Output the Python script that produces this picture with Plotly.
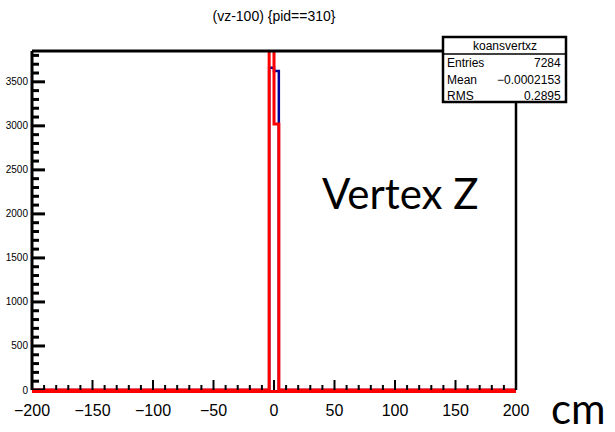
import numpy as np
import plotly.graph_objects as go

# ---- data ----
x_min, x_max, n_bins = -200, 200, 100
filled_bin_left = [-4, 0]
blue_counts = [3660, 3624]
red_counts = [4260, 3020]
y_ticks = [0, 500, 1000, 1500, 2000, 2500, 3000, 3500]
x_ticks = [-200, -150, -100, -50, 0, 50, 100, 150, 200]
y_max = 3850
stats_title = "koansvertxz"
stats_rows = [("Entries", "7284"), ("Mean", "\u22120.0002153"), ("RMS", "0.2895")]

edges = np.linspace(x_min, x_max, n_bins + 1)
width = edges[1] - edges[0]


def full_hist(lefts, counts):
    h = np.zeros(n_bins)
    for l, c in zip(lefts, counts):
        h[int(round((l - x_min) / width))] = c
    return h


def step_xy(h):
    xs = [edges[0]]
    ys = [0]
    for i in range(n_bins):
        xs += [edges[i], edges[i + 1]]
        ys += [h[i], h[i]]
    xs.append(edges[-1])
    ys.append(0)
    return xs, ys


bx, by = step_xy(full_hist(filled_bin_left, blue_counts))
rx, ry = step_xy(full_hist(filled_bin_left, red_counts))

W, H = 615, 432
L, R, T, B = 32, 99, 51, 42
PW, PH = W - L - R, H - T - B


def px(x):
    return (x - L) / PW


def py(y):
    return (H - B - y) / PH


fig = go.Figure()
fig.add_trace(go.Scatter(x=bx, y=by, mode="lines", line=dict(color="#000099", width=2.5),
                         showlegend=False, hoverinfo="skip"))
fig.add_trace(go.Scatter(x=rx, y=ry, mode="lines", line=dict(color="#ff0000", width=3),
                         showlegend=False, hoverinfo="skip"))

shapes = []
# tick marks (ROOT style, inside the frame)
y_step = y_ticks[1] - y_ticks[0]
for v in np.arange(0, y_max, y_step / 5):
    major = abs(v / y_step - round(v / y_step)) < 1e-9
    shapes.append(dict(type="line", xref="x", yref="y", xsizemode="pixel", xanchor=x_min,
                       x0=0, x1=13 if major else 7, y0=v, y1=v,
                       line=dict(color="black", width=3), layer="above"))
x_step = x_ticks[1] - x_ticks[0]
for v in np.arange(x_min, x_max + 1e-9, x_step / 5):
    major = abs(v / x_step - round(v / x_step)) < 1e-9
    shapes.append(dict(type="line", xref="x", yref="y", ysizemode="pixel", yanchor=0,
                       y0=0, y1=10 if major else 5, x0=v, x1=v,
                       line=dict(color="black", width=2), layer="above"))
# frame: top, left, right
shapes.append(dict(type="line", xref="paper", yref="paper", x0=0, x1=1, y0=1, y1=1,
                   line=dict(color="black", width=3)))
shapes.append(dict(type="line", xref="paper", yref="paper", x0=0, x1=0, y0=0, y1=1,
                   line=dict(color="black", width=3)))
shapes.append(dict(type="line", xref="paper", yref="paper", x0=1, x1=1, y0=0, y1=1,
                   line=dict(color="black", width=2.5)))
# stats box
bx0, bx1, by0, by1 = 443, 566, 37, 102
shapes.append(dict(type="rect", xref="paper", yref="paper", x0=px(bx0), x1=px(bx1),
                   y0=py(by1), y1=py(by0), fillcolor="white",
                   line=dict(color="black", width=2.5), layer="above"))
shapes.append(dict(type="line", xref="paper", yref="paper", x0=px(bx0), x1=px(bx1),
                   y0=py(54), y1=py(54), line=dict(color="black", width=1.5), layer="above"))

annotations = []
sfont = dict(family="Liberation Sans", size=12, color="black")
annotations.append(dict(xref="paper", yref="paper", x=px((bx0 + bx1) / 2), y=py(46),
                        text=stats_title, showarrow=False, font=sfont,
                        xanchor="center", yanchor="middle"))
for i, (k, v) in enumerate(stats_rows):
    yy = py(63 + i * 16.5)
    annotations.append(dict(xref="paper", yref="paper", x=px(bx0 + 2), y=yy, text=k,
                            showarrow=False, font=sfont, xanchor="left", yanchor="middle"))
    annotations.append(dict(xref="paper", yref="paper", x=px(bx1 - 3), y=yy, text=v,
                            showarrow=False, font=sfont, xanchor="right", yanchor="middle"))
annotations.append(dict(xref="paper", yref="paper", x=px(400), y=py(193), text="Vertex Z",
                        showarrow=False, font=dict(family="Lato", size=42, color="black"),
                        xanchor="center", yanchor="middle"))
annotations.append(dict(xref="paper", yref="paper", x=px(578), y=py(408), text="cm",
                        showarrow=False, font=dict(family="Lato", size=42, color="black"),
                        xanchor="center", yanchor="middle"))

fig.update_layout(
    width=W, height=H, autosize=False,
    margin=dict(l=L, r=R, t=T, b=B, pad=0),
    paper_bgcolor="white", plot_bgcolor="white",
    title=dict(text="(vz-100) {pid==310}", x=(L + 242) / W, xanchor="center",
               y=1 - 16 / H, yanchor="middle",
               font=dict(family="Liberation Sans", size=14, color="black")),
    shapes=shapes, annotations=annotations,
    xaxis=dict(range=[x_min, x_max], showgrid=False, zeroline=False, automargin=False,
               showline=True, linecolor="#ff0000", linewidth=3, mirror=False,
               tickmode="array", tickvals=x_ticks, ticks="", ticklabelstandoff=4,
               tickfont=dict(family="Liberation Sans", size=16, color="black")),
    yaxis=dict(range=[0, y_max], showgrid=False, zeroline=False, automargin=False,
               showline=False,
               tickmode="array", tickvals=y_ticks, ticks="", ticklabelstandoff=3,
               tickfont=dict(family="Liberation Sans", size=10, color="black")),
)

fig.write_html("out.html")
